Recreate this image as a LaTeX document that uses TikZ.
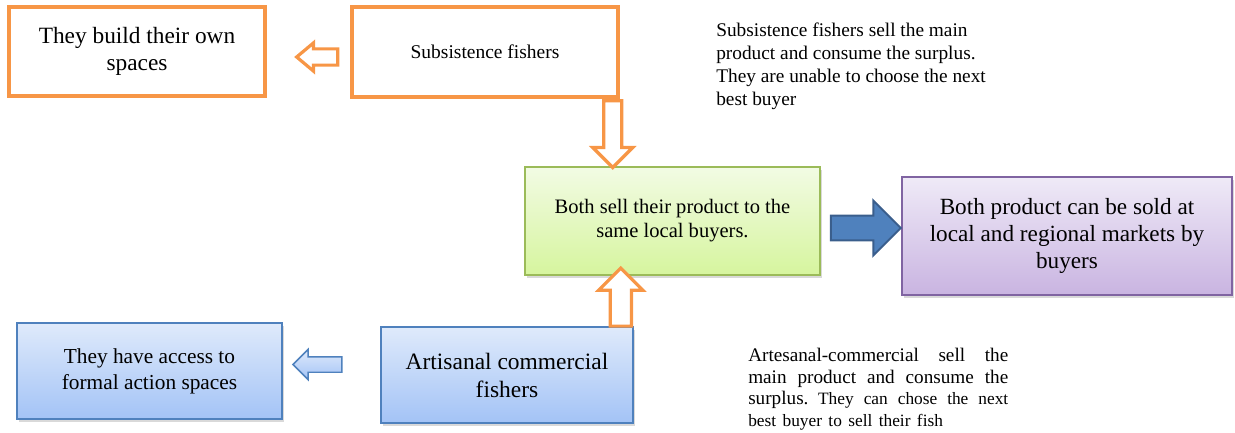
\documentclass[tikz,border=0pt]{standalone}
\usepackage{fontspec}
\setmainfont{Liberation Serif}
\usetikzlibrary{shapes.arrows,shadows,calc,positioning}

\definecolor{fishorange}{HTML}{F79646}
\definecolor{greenline}{HTML}{9BBB59}
\definecolor{greentop}{HTML}{F2FBE4}
\definecolor{greenbot}{HTML}{D6F59E}
\definecolor{purpleline}{HTML}{8064A2}
\definecolor{purpletop}{HTML}{EFEAF7}
\definecolor{purplebot}{HTML}{C9B4E1}
\definecolor{blueline}{HTML}{4F81BD}
\definecolor{bluetop}{HTML}{DFEAFB}
\definecolor{bluebot}{HTML}{A3C3F6}
\definecolor{darkblueline}{HTML}{3A5E8C}

\newcommand{\fullline}[1]{\makebox[195pt][s]{\spaceskip=.25em plus 1fil\relax #1}}

\tikzset{
  fishbox/.style={draw=fishorange,line width=2.6pt,fill=white,align=center,inner sep=2pt},
  shadebox/.style={line width=1.2pt,align=center,inner sep=2pt,
    drop shadow={shadow xshift=1.5pt,shadow yshift=-2.5pt,opacity=.3}},
  greenbox/.style={shadebox,draw=greenline,top color=greentop,bottom color=greenbot},
  purplebox/.style={shadebox,draw=purpleline,top color=purpletop,bottom color=purplebot},
  bluebox/.style={shadebox,draw=blueline,top color=bluetop,bottom color=bluebot},
  hollowarrow/.style={single arrow,draw=fishorange,fill=white,line width=2.4pt,
    inner xsep=0pt,anchor=tail},
  bluehollow/.style={single arrow,draw=blueline,top color=bluetop,bottom color=bluebot,
    line width=1.1pt,inner xsep=0pt,anchor=tail},
  bluesolid/.style={single arrow,draw=darkblueline,fill=blueline,line width=1.5pt,
    inner xsep=0pt,anchor=tail},
  note/.style={anchor=north west,inner sep=0pt,align=left}
}

\begin{document}
\begin{tikzpicture}[x=0.75pt,y=-0.75pt]
  \useasboundingbox (0,0) rectangle (1235,432);

  % top row
  \node[fishbox,minimum width=192pt,minimum height=66.75pt,
        font=\fontsize{17.5}{20}\selectfont] (own) at (137,51.5) {They build their own\\spaces};
  \node[fishbox,minimum width=199.5pt,minimum height=67.5pt,
        font=\fontsize{14.6}{16}\selectfont] (subs) at (485,52) {Subsistence fishers};

  % middle row
  \node[greenbox,minimum width=221.25pt,minimum height=81pt,
        font=\fontsize{15.4}{18}\selectfont] (buyers) at (672.5,221)
        {Both sell their product to the\\same local buyers.};
  \node[purplebox,minimum width=247.5pt,minimum height=88.5pt,
        font=\fontsize{17.4}{20}\selectfont] (markets) at (1067,236)
        {Both product can be sold at\\local and regional markets by\\buyers};

  % bottom row
  \node[bluebox,minimum width=198.75pt,minimum height=72pt,
        font=\fontsize{16}{19.5}\selectfont] (formal) at (149.5,371)
        {They have access to\\formal action spaces};
  \node[bluebox,minimum width=189pt,minimum height=72pt,
        font=\fontsize{17.6}{21}\selectfont] (arti) at (507,375)
        {Artisanal commercial\\fishers};

  % block arrows
  \node[hollowarrow,shape border rotate=180,minimum height=30.75pt,inner ysep=4.9pt,
        single arrow head extend=4.5pt,single arrow tip angle=80] (subs2own)
        at ($(subs.west)+(-11,5)$) {};
  \node[hollowarrow,shape border rotate=270,minimum height=50pt,inner xsep=5.6pt,
        inner ysep=0pt,single arrow head extend=8.25pt] (subs2buy)
        at ($(subs.south east)+(-7,0.5)$) {};
  \node[hollowarrow,shape border rotate=90,minimum height=43.5pt,inner xsep=6.75pt,
        inner ysep=0pt,single arrow head extend=8.6pt] (arti2buy)
        at ($(arti.north east)+(-13,1.5)$) {};
  \node[bluesolid,minimum height=52.5pt,inner ysep=8.6pt,
        single arrow head extend=11.25pt] (buy2mark)
        at ($(buyers.east)+(9,7)$) {};
  \node[bluehollow,shape border rotate=180,minimum height=36.75pt,inner ysep=5.25pt,
        single arrow head extend=5.6pt] (arti2form)
        at ($(arti.west)+(-37.5,-10.5)$) {};

  % side notes
  \node[note,font=\fontsize{14.5}{17.25}\selectfont] (subsnote) at (716,23)
    {Subsistence fishers sell the main\\product and consume the surplus.\\
     They are unable to choose the next\\best buyer};
  \node[note,text width=195pt,font=\fontsize{14.4}{16.2}\selectfont] (artinote) at (748,348)
    {\fullline{Artesanal-commercial sell the}\\
     \fullline{main product and consume the}\\
     \fullline{surplus. {\fontsize{13}{16.2}\selectfont They can chose the next}}\\
     {\fontsize{13}{16.2}\selectfont best buyer to sell their fish}};
\end{tikzpicture}
\end{document}
